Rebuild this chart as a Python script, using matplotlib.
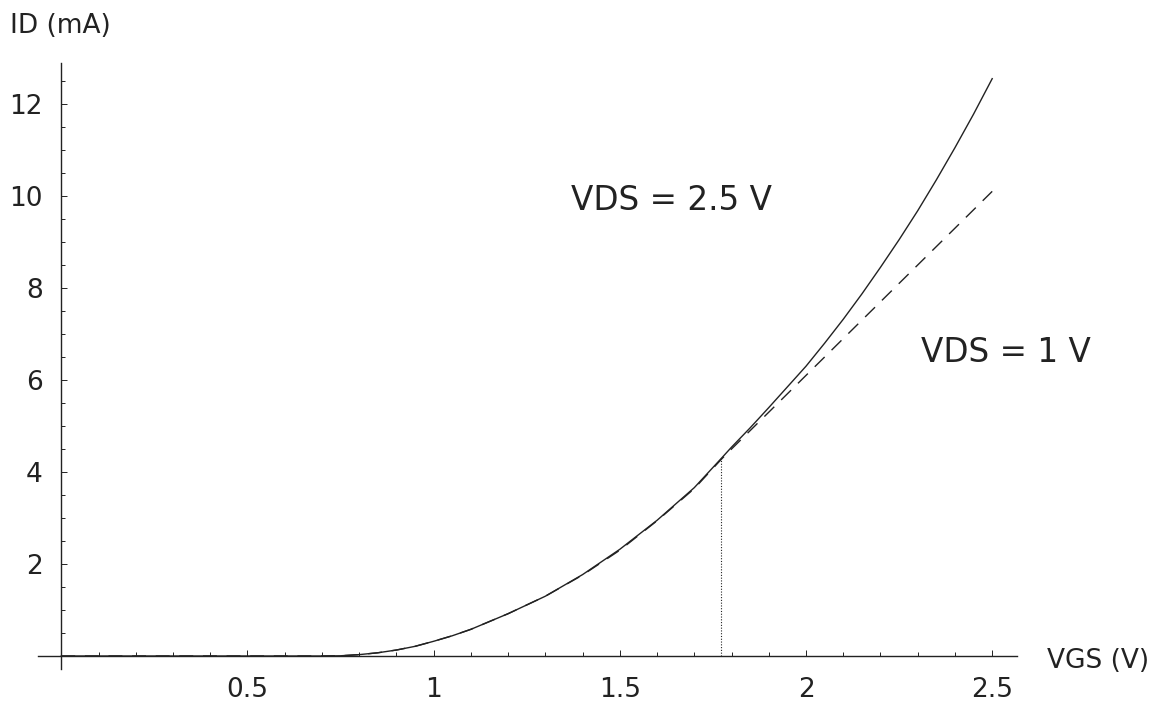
import matplotlib
matplotlib.use("Agg")
import matplotlib.pyplot as plt
import numpy as np

# Drain current curves (VGS in V, ID in mA)
vgs = [0.0, 0.3, 0.5, 0.7, 0.75, 0.8, 0.85, 0.9, 0.95, 1.0, 1.05, 1.1, 1.2, 1.3, 1.4,
       1.5, 1.6, 1.7, 1.773, 1.8, 1.85, 1.9, 1.95, 2.0, 2.05, 2.1, 2.15, 2.2,
       2.25, 2.3, 2.35, 2.4, 2.45, 2.5]
id_vds25 = [0.0, 0.0, 0.0, 0.0, 0.005, 0.03, 0.07, 0.13, 0.21, 0.32, 0.44, 0.58,
            0.92, 1.30, 1.77, 2.32, 2.95, 3.66, 4.30, 4.54, 4.96, 5.40, 5.85,
            6.30, 6.80, 7.32, 7.87, 8.45, 9.05, 9.68, 10.35, 11.05, 11.78, 12.55]
id_vds1 = [0.0, 0.0, 0.0, 0.0, 0.005, 0.03, 0.07, 0.13, 0.21, 0.32, 0.44, 0.58,
           0.92, 1.30, 1.76, 2.30, 2.94, 3.64, 4.28, 4.50, 4.90, 5.30, 5.70,
           6.10, 6.50, 6.90, 7.30, 7.70, 8.10, 8.50, 8.90, 9.30, 9.70, 10.10]

# edge of saturation for VDS = 1 V
vgs_edge = 1.773
id_edge = 4.30

xticks = [0.5, 1, 1.5, 2, 2.5]
xticklabels = ["0.5", "1", "1.5", "2", "2.5"]
yticks = [2, 4, 6, 8, 10, 12]
yticklabels = ["2", "4", "6", "8", "10", "12"]

ink = "#222222"

fig = plt.figure(figsize=(11.62, 7.09), dpi=100)
ax = fig.add_axes([0, 0, 1, 1])
ax.set_xlim(-0.1646, 2.956)
ax.set_ylim(-1.152, 14.26)

ax.plot(vgs, id_vds25, color=ink, lw=1.0)
ax.plot(vgs, id_vds1, color=ink, lw=1.0, dashes=(10, 7))
ax.plot([vgs_edge, vgs_edge], [0, id_edge], color=ink, lw=0.8,
        linestyle=(0, (1, 1.5)))

# Mathematica-style axes crossing at origin
for side in ["top", "right"]:
    ax.spines[side].set_visible(False)
ax.spines["left"].set_position(("data", 0))
ax.spines["bottom"].set_position(("data", 0))
ax.spines["left"].set_bounds(-0.28, 12.88)
ax.spines["bottom"].set_bounds(-0.063, 2.566)
for side in ["left", "bottom"]:
    ax.spines[side].set_linewidth(1.0)
    ax.spines[side].set_color(ink)

ax.set_xticks(xticks)
ax.set_xticklabels(xticklabels)
ax.set_yticks(yticks)
ax.set_yticklabels(yticklabels)
ax.set_xticks(np.arange(0.1, 2.55, 0.1), minor=True)
ax.set_yticks(np.arange(0.5, 12.6, 0.5), minor=True)
ax.tick_params(which="major", direction="in", length=4.5, width=0.7,
               color=ink, labelsize=19, labelcolor=ink)
ax.tick_params(which="minor", direction="in", length=3, width=0.7, color=ink)
ax.tick_params(axis="x", which="major", pad=15)
ax.tick_params(axis="y", which="major", pad=13.5)

# axis titles and curve labels
ax.text(-0.137, 13.55, "ID (mA)", fontsize=19, color=ink, ha="left", va="baseline")
ax.text(2.647, -0.25, "VGS (V)", fontsize=19, color=ink, ha="left", va="baseline")
ax.text(1.37, 9.7, "VDS = 2.5 V", fontsize=23.5, color=ink, ha="left", va="baseline")
ax.text(2.31, 6.4, "VDS = 1 V", fontsize=23.5, color=ink, ha="left", va="baseline")

fig.savefig("out.png", dpi=100)
